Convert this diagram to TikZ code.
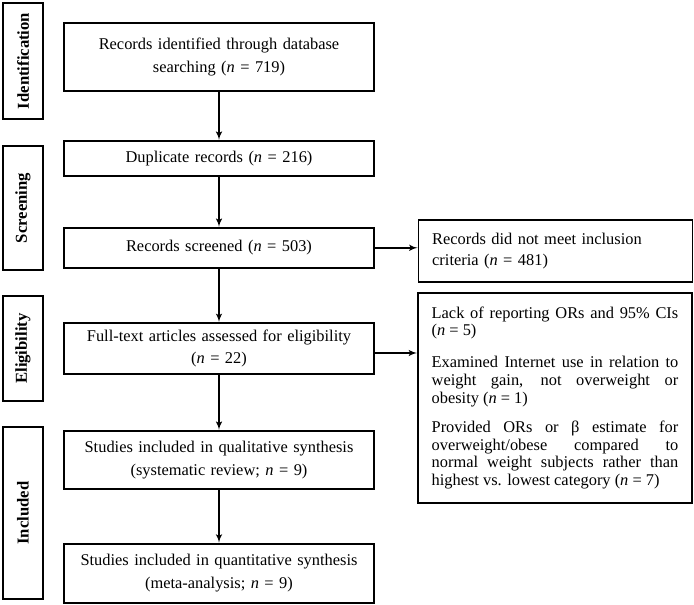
\documentclass[tikz,border=0pt]{standalone}
\usepackage{fontspec}
\setmainfont{Liberation Serif}
\usepackage{tikz}
\usetikzlibrary{shapes,arrows,positioning}
\tikzstyle{block} = [rectangle, draw, line width=1.4pt, text width=225pt, inner xsep=3.75pt,
text centered, font=\fontsize{12.3}{17}\selectfont]
\tikzstyle{stage} = [rectangle, draw, line width=1.4pt, rotate=90, minimum height=30pt,
font=\fontsize{12.5}{13}\selectfont\bfseries]
\tikzstyle{excl} = [rectangle, draw, line width=1.4pt, text width=185pt, inner xsep=10.25pt,
font=\fontsize{12.3}{13.2}\selectfont]
\tikzstyle{pijl} = [draw, line width=1.2pt, -latex']

\begin{document}
\begin{tikzpicture}[node distance = 76pt, auto]
	\useasboundingbox (0,0) rectangle (520.5pt,-453.75pt);
	
	\node [block, minimum height=51pt] at (164.25pt,-42.75pt) (ident) {Records identified through database\\ searching (\textit{n} = 719)};
	\node [block, below of=ident, minimum height=26.25pt] (dup) {Duplicate records (\textit{n} = 216)};
	\node [block, below of=dup, node distance=67.1pt, minimum height=30pt] (screen) {Records screened (\textit{n} = 503)};
	\node [block, below of=screen, node distance=75.4pt, minimum height=38pt] (full) {Full-text articles assessed for eligibility\\ (\textit{n} = 22)};
	\node [block, below of=full, node distance=83.6pt, minimum height=43.5pt] (qual) {Studies included in qualitative synthesis\\ (systematic review; \textit{n} = 9)};
	\node [block, below of=qual, node distance=85pt, minimum height=44.25pt] (quant) {Studies included in quantitative synthesis\\ (meta-analysis; \textit{n} = 9)};
	
	
	\node [excl, right of=screen, node distance=252.4pt, yshift=-2.25pt, minimum height=46.5pt, align=left, font=\fontsize{12.3}{16}\selectfont] (notmeet) {Records did not meet inclusion\\ criteria (\textit{n} = 481)};
	\node [excl, right of=full, node distance=252pt, yshift=-37.1pt, minimum height=157.5pt, align=justify] (reasons) {Lack of reporting ORs and 95\% CIs\linebreak (\textit{n} = 5)\\[11pt]
		Examined Internet use in relation to\linebreak weight gain, not overweight or\linebreak obesity (\textit{n} = 1)\\[9pt]
		Provided ORs or β estimate for\linebreak overweight/obese compared to\linebreak normal weight subjects rather than\linebreak highest vs. lowest category (\textit{n} = 7)};
	
	
	\node [stage, minimum width=87pt] at (17.25pt,-45.75pt) (identlabel) {Identification};
	\node [stage, minimum width=93pt] at (17.25pt,-156pt) (screenlabel) {Screening};
	\node [stage, minimum width=78.75pt] at (17.25pt,-261.4pt) (eliglabel) {Eligibility};
	\node [stage, minimum width=129pt] at (17.25pt,-384.75pt) (incllabel) {Included};
	
	
	\path [pijl] (ident)--(dup);
	\path [pijl] (dup)--(screen);
	\path [pijl] (screen)--(full);
	\path [pijl] (full)--(qual);
	\path [pijl] (qual)--(quant);
	
	
	\path [pijl] (screen.east)--(screen.east -| notmeet.west);
	\path [pijl] ([yshift=-3.5pt]full.east)--([yshift=-3.5pt]full.east -| reasons.west);
\end{tikzpicture}
\end{document}
